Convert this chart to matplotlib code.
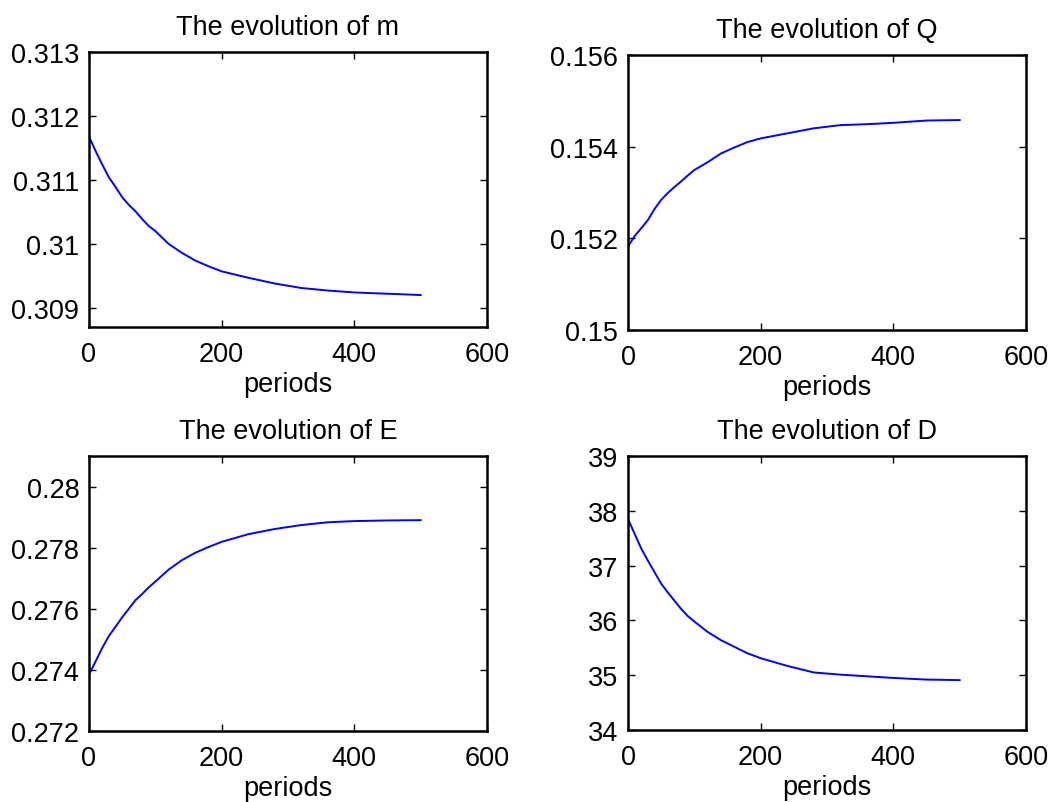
import matplotlib
matplotlib.use("Agg")
import matplotlib.pyplot as plt

plt.rcParams['font.family'] = ['Liberation Sans', 'DejaVu Sans']

periods = [0, 10, 20, 30, 40, 50, 60, 70, 80, 90, 100, 120, 140, 160, 180, 200,
           240, 280, 320, 360, 400, 450, 500]

m_vals = [0.31168, 0.31145, 0.31124, 0.31104, 0.31089, 0.31073, 0.31061, 0.31051, 0.31039,
          0.31028, 0.31020, 0.31000, 0.30986, 0.30974, 0.30965, 0.30957, 0.30947, 0.30938,
          0.30931, 0.30927, 0.30924, 0.30922, 0.30920]
Q_vals = [0.15182, 0.15205, 0.15222, 0.15240, 0.15264, 0.15284, 0.15299, 0.15312, 0.15324,
          0.15337, 0.15349, 0.15366, 0.15385, 0.15398, 0.15410, 0.15418, 0.15429, 0.15440,
          0.15447, 0.15449, 0.15452, 0.15457, 0.15458]
E_vals = [0.27385, 0.27428, 0.27472, 0.27511, 0.27541, 0.27572, 0.27600, 0.27628, 0.27648,
          0.27670, 0.27689, 0.27728, 0.27759, 0.27783, 0.27802, 0.27819, 0.27844, 0.27861,
          0.27874, 0.27883, 0.27887, 0.27889, 0.27890]
D_vals = [37.85, 37.58, 37.31, 37.09, 36.88, 36.67, 36.51, 36.36, 36.21,
          36.08, 35.98, 35.79, 35.64, 35.52, 35.40, 35.31, 35.17, 35.05,
          35.01, 34.98, 34.95, 34.92, 34.91]

titles = ['The evolution of m', 'The evolution of Q', 'The evolution of E', 'The evolution of D']
series = [m_vals, Q_vals, E_vals, D_vals]
ylims = [(0.3087, 0.313), (0.150, 0.156), (0.272, 0.281), (34, 39)]
yticks = [[0.309, 0.310, 0.311, 0.312, 0.313],
          [0.150, 0.152, 0.154, 0.156],
          [0.272, 0.274, 0.276, 0.278, 0.280],
          [34, 35, 36, 37, 38, 39]]
yticklabels = [['0.309', '0.31', '0.311', '0.312', '0.313'],
               ['0.15', '0.152', '0.154', '0.156'],
               ['0.272', '0.274', '0.276', '0.278', '0.28'],
               ['34', '35', '36', '37', '38', '39']]
xticks = [0, 200, 400, 600]

W, H = 1060, 803
fig = plt.figure(figsize=(W / 100, H / 100), dpi=100)
boxes = [(89, 53, 487, 328), (628, 56, 1026, 331), (89, 457, 487, 732), (628, 457, 1026, 731)]
fs = 19.5
for i, (l, t, r, b) in enumerate(boxes):
    ax = fig.add_axes([l / W, 1 - b / H, (r - l) / W, (b - t) / H])
    ax.plot(periods, series[i], color='#0000ff', lw=1.4)
    ax.set_xlim(0, 600)
    ax.set_ylim(*ylims[i])
    ax.set_xticks(xticks)
    ax.set_xticklabels([str(x) for x in xticks])
    ax.set_yticks(yticks[i])
    ax.set_yticklabels(yticklabels[i])
    ax.tick_params(direction='in', top=True, right=True, length=5, width=1,
                   labelsize=fs)
    ax.tick_params(axis='x', pad=10)
    ax.tick_params(axis='y', pad=7)
    for s in ax.spines.values():
        s.set_linewidth(1.8)
    ax.set_title(titles[i], fontsize=fs, pad=13)
    ax.set_xlabel('periods', fontsize=fs, labelpad=3)

fig.savefig('out.png', dpi=100)
